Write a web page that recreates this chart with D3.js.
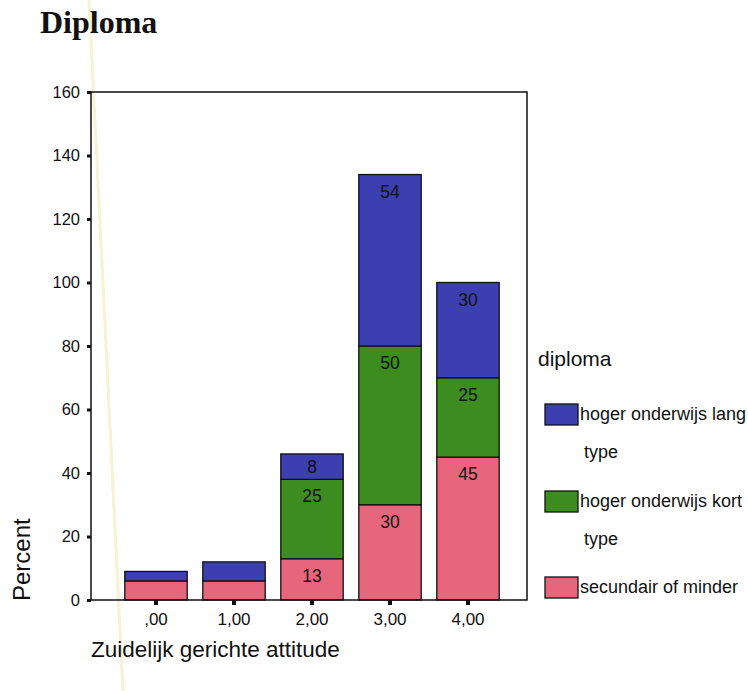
<!DOCTYPE html>
<html><head><meta charset="utf-8">
<script src="https://cdn.jsdelivr.net/npm/d3@7/dist/d3.min.js"></script>
<style>body{margin:0;background:#fff}svg{display:block}</style>
</head><body>
<script>
const categories = [",00", "1,00", "2,00", "3,00", "4,00"];
const secundair = [6, 6, 13, 30, 45];
const kort = [0, 0, 25, 50, 25];
const lang = [3, 6, 8, 54, 30];
const seriesNames = ["secundair of minder", "hoger onderwijs kort type", "hoger onderwijs lang type"];
const seriesColors = ["#e8667c", "#3c8c1f", "#3c3fb0"];
const yTicks = [0, 20, 40, 60, 80, 100, 120, 140, 160];

const W = 748, H = 691;
const FONT = "Liberation Sans, Arial, sans-serif";
const svg = d3.select("body").append("svg").attr("width", W).attr("height", H);

// faint scan artifact line
svg.append("line").attr("x1", 89).attr("y1", 0).attr("x2", 123).attr("y2", H)
  .attr("stroke", "#f5f3d2").attr("stroke-width", 3);

const frame = {l: 91, r: 527, t: 92, b: 600};
const x = d3.scaleBand().domain(categories).range([117, 507]).paddingInner(0.2).paddingOuter(0.1);
const y = d3.scaleLinear().domain([0, 160]).range([frame.b, frame.t]);

const table = categories.map((c, i) => ({cat: c, s0: secundair[i], s1: kort[i], s2: lang[i]}));
const stack = d3.stack().keys(["s0", "s1", "s2"])(table);

svg.append("text").attr("x", 40).attr("y", 33).text("Diploma")
  .attr("font-family", "Liberation Serif, Times New Roman, serif").attr("font-weight", "bold").attr("font-size", 32).attr("fill", "#111");

const bw = x.bandwidth();
stack.forEach((layer, si) => {
  const g = svg.append("g");
  layer.forEach((d, i) => {
    const v = d[1] - d[0];
    if (v <= 0) return;
    const top = y(d[1]), bot = y(d[0]);
    g.append("rect").attr("x", x(categories[i])).attr("y", top).attr("width", bw).attr("height", bot - top)
      .attr("fill", seriesColors[si]).attr("stroke", "#111").attr("stroke-width", 1.3);
    if (v >= 8) {
      const h = bot - top;
      g.append("text").attr("x", x(categories[i]) + bw / 2).attr("y", top + Math.min(23, h / 2 + 6))
        .attr("text-anchor", "middle").attr("font-family", FONT)
        .attr("font-size", 17.5).attr("fill", "#111").text(v);
    }
  });
});

// frame
svg.append("rect").attr("x", frame.l).attr("y", frame.t).attr("width", frame.r - frame.l).attr("height", frame.b - frame.t)
  .attr("fill", "none").attr("stroke", "#111").attr("stroke-width", 1.5);

// y axis
const yAxis = d3.axisLeft(y).tickValues(yTicks).tickSize(4).tickPadding(7).tickFormat(d3.format("d"));
const ya = svg.append("g").attr("transform", `translate(${frame.l},0)`).call(yAxis);
ya.select(".domain").remove();
ya.selectAll(".tick line").attr("stroke", "#111").attr("stroke-width", 3);
ya.selectAll("text").attr("font-family", FONT).attr("font-size", 16.5).attr("fill", "#111");

// x axis
const xAxis = d3.axisBottom(x).tickSize(5).tickPadding(8);
const xa = svg.append("g").attr("transform", `translate(0,${frame.b})`).call(xAxis);
xa.select(".domain").remove();
xa.selectAll(".tick line").attr("stroke", "#111").attr("stroke-width", 4);
xa.selectAll("text").attr("font-family", FONT).attr("font-size", 17).attr("fill", "#111");

svg.append("text").attr("x", 91).attr("y", 657).text("Zuidelijk gerichte attitude")
  .attr("font-family", FONT).attr("font-size", 22.5).attr("fill", "#111");
svg.append("text").attr("transform", "translate(30,601) rotate(-90)").text("Percent")
  .attr("font-family", FONT).attr("font-size", 24).attr("fill", "#111");

// legend
svg.append("text").attr("x", 538).attr("y", 366).text("diploma")
  .attr("font-family", FONT).attr("font-size", 21).attr("fill", "#111");
const legendItems = [
  {ci: 2, y: 404, lines: ["hoger onderwijs lang", "type"]},
  {ci: 1, y: 491, lines: ["hoger onderwijs kort", "type"]},
  {ci: 0, y: 577, lines: ["secundair of minder"]}
];
legendItems.forEach(it => {
  svg.append("rect").attr("x", 545).attr("y", it.y).attr("width", 33).attr("height", 21)
    .attr("fill", seriesColors[it.ci]).attr("stroke", "#111").attr("stroke-width", 1.3);
  it.lines.forEach((ln, k) => {
    svg.append("text").attr("x", k === 0 ? 580 : 584).attr("y", it.y + 16 + k * 38).text(ln)
      .attr("font-family", FONT).attr("font-size", 18).attr("fill", "#111");
  });
});
</script>
</body></html>
